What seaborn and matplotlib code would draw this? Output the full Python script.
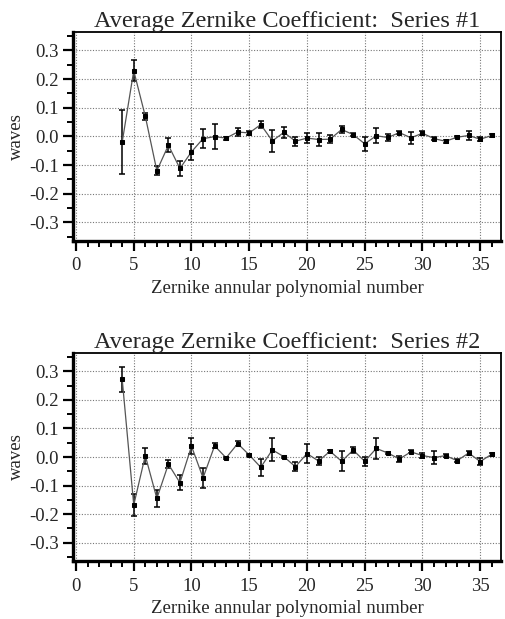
import numpy as np
import pandas as pd
import matplotlib
matplotlib.use("Agg")
import matplotlib.pyplot as plt
import seaborn as sns
from matplotlib.ticker import MultipleLocator

# ---- data ----
zernike_n = list(range(4, 37))

series1_vals = [-0.020, 0.229, 0.070, -0.120, -0.031, -0.112, -0.054, -0.008, -0.001,
                -0.006, 0.015, 0.012, 0.041, -0.016, 0.014, -0.017, -0.006, -0.011,
                -0.010, 0.024, 0.006, -0.026, 0.002, -0.004, 0.013, -0.005, 0.011,
                -0.008, -0.017, -0.003, 0.003, -0.010, 0.003]
series1_err = [0.112, 0.036, 0.012, 0.015, 0.024, 0.026, 0.028, 0.033, 0.043,
               0.005, 0.014, 0.006, 0.013, 0.039, 0.020, 0.015, 0.016, 0.021,
               0.013, 0.013, 0.005, 0.025, 0.026, 0.012, 0.006, 0.021, 0.008,
               0.005, 0.006, 0.004, 0.014, 0.006, 0.004]

series2_vals = [0.272, -0.168, 0.005, -0.145, -0.025, -0.090, 0.038, -0.073, 0.039,
                -0.003, 0.047, 0.007, -0.036, 0.025, 0.001, -0.034, 0.012, -0.014,
                0.020, -0.015, 0.024, -0.015, 0.030, 0.014, -0.007, 0.018, 0.005,
                -0.002, 0.005, -0.013, 0.014, -0.016, 0.010]
series2_err = [0.044, 0.039, 0.028, 0.030, 0.013, 0.026, 0.029, 0.035, 0.009,
               0.004, 0.010, 0.005, 0.030, 0.040, 0.004, 0.016, 0.033, 0.013,
               0.005, 0.035, 0.010, 0.015, 0.036, 0.005, 0.010, 0.005, 0.008,
               0.024, 0.004, 0.006, 0.006, 0.011, 0.005]

y_ticks = [-0.3, -0.2, -0.1, 0.0, 0.1, 0.2, 0.3]
y_ticklabels = ["-0.3", "-0.2", "-0.1", "0.0", "0.1", "0.2", "0.3"]

titles = ["Average Zernike Coefficient:  Series #1",
          "Average Zernike Coefficient:  Series #2"]
x_label = "Zernike annular polynomial number"
y_label = "waves"

sns.set_style("ticks")
plt.rcParams["font.family"] = ["Liberation Serif", "DejaVu Serif"]

fig = plt.figure(figsize=(5.05, 6.19), dpi=100)
W, H = 505, 619
def rect(l, t, r, b):
    return [l / W, 1 - b / H, (r - l) / W, (b - t) / H]

axes = [fig.add_axes(rect(73, 32, 501, 240.7)),
        fig.add_axes(rect(73, 353, 501, 561))]

datasets = [(series1_vals, series1_err), (series2_vals, series2_err)]

for ax, (vals, errs), title in zip(axes, datasets, titles):
    df = pd.DataFrame({"n": zernike_n, "v": vals, "e": errs})
    ax.errorbar(df["n"], df["v"], yerr=df["e"], fmt="none", ecolor="black",
                elinewidth=1.1, capsize=2.5, capthick=1.1, zorder=3)
    sns.lineplot(data=df, x="n", y="v", ax=ax, color="#555555", linewidth=0.9,
                 marker="s", markersize=2.6, markerfacecolor="black",
                 markeredgecolor="black", zorder=4)
    ax.set_xlim(-0.26, 36.8)
    ax.set_ylim(-0.364, 0.364)
    ax.xaxis.set_major_locator(MultipleLocator(5))
    ax.xaxis.set_minor_locator(MultipleLocator(1))
    ax.yaxis.set_minor_locator(MultipleLocator(0.05))
    ax.set_yticks(y_ticks)
    ax.set_yticklabels(y_ticklabels)
    ax.grid(True, which="major", linestyle=(0, (1, 1.5)), color="#777777", linewidth=0.8)
    ax.tick_params(axis="both", which="major", direction="out", length=7, width=1.6,
                   labelsize=13.5, color="black")
    ax.tick_params(axis="both", which="minor", direction="out", length=4, width=1.4,
                   color="black")
    ax.tick_params(axis="y", pad=3)
    ax.tick_params(axis="x", pad=5)
    for side in ["left", "bottom"]:
        ax.spines[side].set_linewidth(2.4)
        ax.spines[side].set_color("black")
    for side in ["top", "right"]:
        ax.spines[side].set_visible(True)
        ax.spines[side].set_linewidth(1.3)
        ax.spines[side].set_color("black")
    ax.set_xlabel(x_label, fontsize=13.5, labelpad=4)
    ax.set_ylabel(y_label, fontsize=13.5, labelpad=3)
    ax.set_title(title, fontsize=17.5, pad=1.5)
    ax.set_facecolor("white")

fig.savefig("out.png", dpi=100, facecolor="white")
